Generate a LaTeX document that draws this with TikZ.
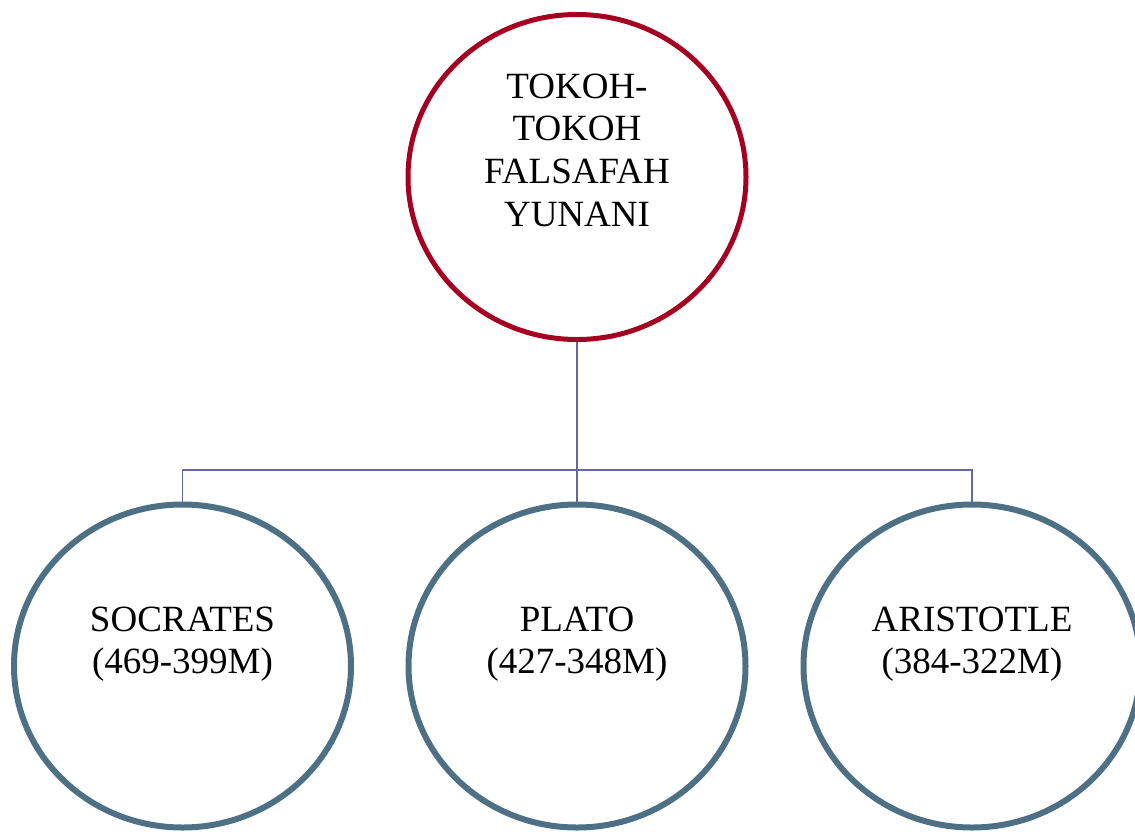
\documentclass[tikz,border=0pt]{standalone}
\usepackage{fontspec}
\setmainfont{Liberation Serif}
\usetikzlibrary{shapes.geometric}
\definecolor{topred}{RGB}{165,0,33}
\definecolor{steel}{RGB}{78,112,133}
\definecolor{linkc}{RGB}{102,102,163}
\tikzset{
  topnode/.style={draw=topred, line width=5pt, ellipse, minimum width=338pt, minimum height=325pt, inner sep=0pt},
  leafnode/.style={draw=steel, line width=6pt, ellipse, minimum width=337pt, minimum height=323pt, inner sep=0pt},
  lbl/.style={anchor=north, inner sep=0pt, align=center, font=\fontsize{37}{42.6}\selectfont},
  link/.style={draw=linkc, line width=1.5pt}
}
\begin{document}
\begin{tikzpicture}[x=1pt,y=-1pt]
\useasboundingbox (0,0) rectangle (1135,831);
\node[topnode] (top) at (577,177) {};
\node[leafnode] (s) at (182.5,666) {};
\node[leafnode] (p) at (577,666) {};
\node[leafnode] (a) at (972,666) {};
\node[lbl] (toplbl) at (577,73.5) {TOKOH-\\TOKOH\\FALSAFAH\\YUNANI};
\node[lbl] (slbl) at (182.5,606.5) {SOCRATES\\(469-399M)};
\node[lbl] (plbl) at (577,606.5) {PLATO\\(427-348M)};
\node[lbl] (albl) at (972,606.5) {ARISTOTLE\\(384-322M)};
\coordinate (bus) at (577,470);
\draw[link] (top.south) -- (bus);
\draw[link] (bus) -| (s.north);
\draw[link] (bus) -- (p.north);
\draw[link] (bus) -| (a.north);
\end{tikzpicture}
\end{document}
